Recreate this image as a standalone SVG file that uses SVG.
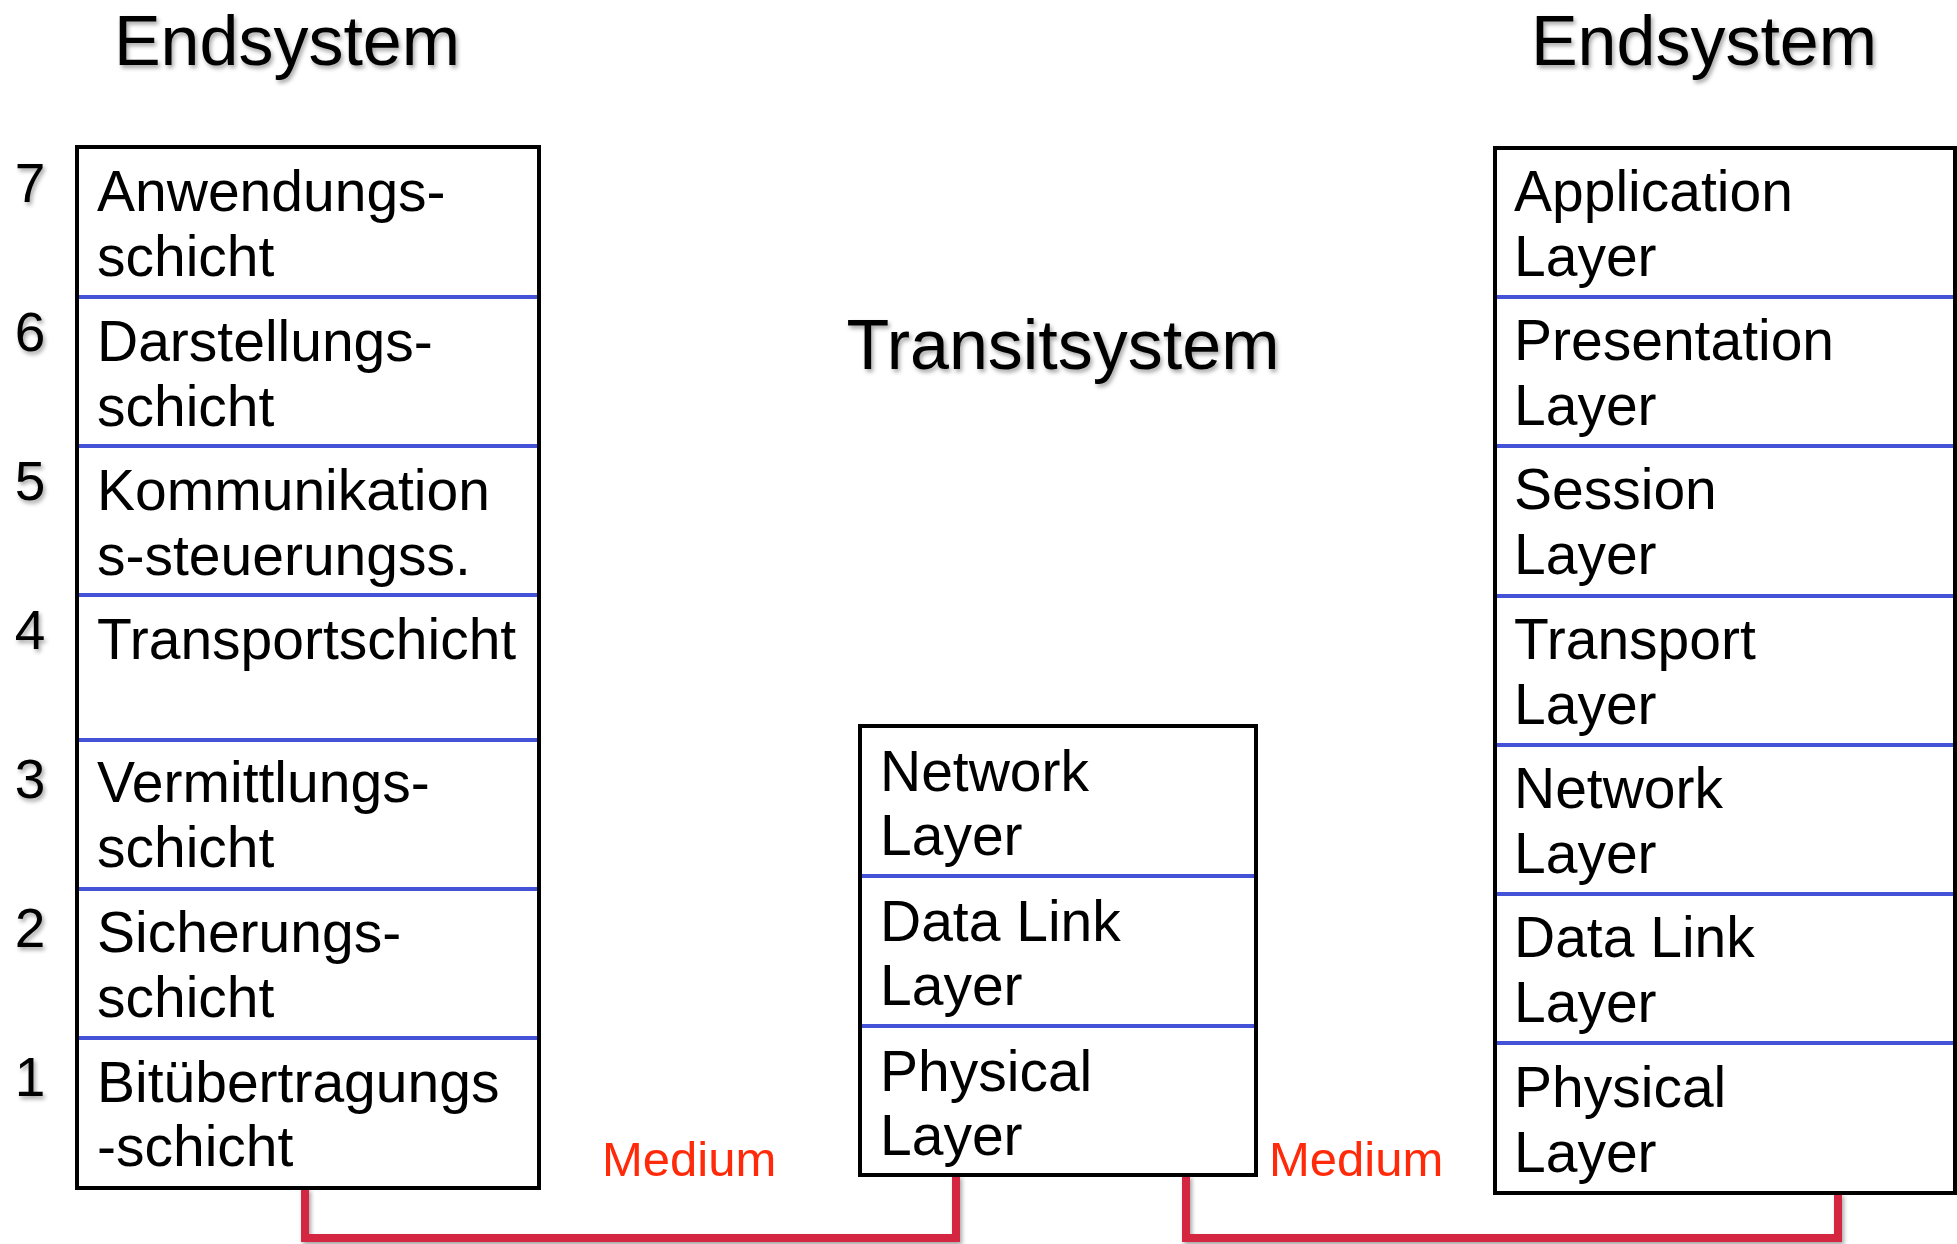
<svg xmlns="http://www.w3.org/2000/svg" width="1957" height="1244" viewBox="0 0 1957 1244">
<style>
.t{font-family:"Liberation Sans",Arial,sans-serif;fill:#000}
.title{font-size:70px;text-anchor:middle}
.num{font-size:55px;text-anchor:middle}
.lbl{font-size:57px}
.box{fill:#fff;stroke:#000;stroke-width:4}
.div{stroke:#4452d8;stroke-width:4}
.wire{fill:none;stroke:#d4263f;stroke-width:8}
.med{font-family:"Liberation Sans",Arial,sans-serif;font-size:49px;fill:#ff2a0a}
</style>
<defs>
<filter id="sh" x="-10%" y="-10%" width="130%" height="140%">
<feDropShadow dx="2" dy="3" stdDeviation="2" flood-color="#000" flood-opacity="0.35"/>
</filter>
</defs>
<rect width="1957" height="1244" fill="#fff"/>
<g id="titles" filter="url(#sh)">
<text class="t title" x="287" y="65">Endsystem</text>
<text class="t title" x="1704" y="65">Endsystem</text>
<text class="t title" x="1063" y="369">Transitsystem</text>
</g>
<g id="connectors">
<path class="wire" filter="url(#sh)" d="M305 1188 V1238 H956 V1175"/>
<path class="wire" filter="url(#sh)" d="M1186 1175 V1238 H1838 V1193"/>
<text class="med" x="602" y="1176">Medium</text>
<text class="med" x="1269" y="1176">Medium</text>
</g>
<g id="numbers" filter="url(#sh)">
<text class="t num" x="30" y="202">7</text>
<text class="t num" x="30" y="351">6</text>
<text class="t num" x="30" y="500">5</text>
<text class="t num" x="30" y="649">4</text>
<text class="t num" x="30" y="798">3</text>
<text class="t num" x="30" y="947">2</text>
<text class="t num" x="30" y="1096">1</text>
</g>
<g id="left-endsystem">
<rect class="box" x="77" y="147" width="462" height="1041"/>
<line class="div" x1="79" y1="297" x2="537" y2="297"/>
<line class="div" x1="79" y1="446" x2="537" y2="446"/>
<line class="div" x1="79" y1="595" x2="537" y2="595"/>
<line class="div" x1="79" y1="740" x2="537" y2="740"/>
<line class="div" x1="79" y1="889" x2="537" y2="889"/>
<line class="div" x1="79" y1="1038" x2="537" y2="1038"/>
<text class="t lbl" x="97" y="211">Anwendungs-</text>
<text class="t lbl" x="97" y="276">schicht</text>
<text class="t lbl" x="97" y="361">Darstellungs-</text>
<text class="t lbl" x="97" y="426">schicht</text>
<text class="t lbl" x="97" y="510">Kommunikation</text>
<text class="t lbl" x="97" y="575">s-steuerungss.</text>
<text class="t lbl" x="97" y="659">Transportschicht</text>
<text class="t lbl" x="97" y="802">Vermittlungs-</text>
<text class="t lbl" x="97" y="867">schicht</text>
<text class="t lbl" x="97" y="952">Sicherungs-</text>
<text class="t lbl" x="97" y="1017">schicht</text>
<text class="t lbl" x="97" y="1102">Bitübertragungs</text>
<text class="t lbl" x="97" y="1166">-schicht</text>
</g>
<g id="transitsystem">
<rect class="box" x="860" y="726" width="396" height="449"/>
<line class="div" x1="862" y1="876" x2="1254" y2="876"/>
<line class="div" x1="862" y1="1026" x2="1254" y2="1026"/>
<text class="t lbl" x="880" y="791">Network</text>
<text class="t lbl" x="880" y="855">Layer</text>
<text class="t lbl" x="880" y="941">Data Link</text>
<text class="t lbl" x="880" y="1005">Layer</text>
<text class="t lbl" x="880" y="1091">Physical</text>
<text class="t lbl" x="880" y="1155">Layer</text>
</g>
<g id="right-endsystem">
<rect class="box" x="1495" y="148" width="460" height="1045"/>
<line class="div" x1="1497" y1="297" x2="1953" y2="297"/>
<line class="div" x1="1497" y1="446" x2="1953" y2="446"/>
<line class="div" x1="1497" y1="596" x2="1953" y2="596"/>
<line class="div" x1="1497" y1="745" x2="1953" y2="745"/>
<line class="div" x1="1497" y1="894" x2="1953" y2="894"/>
<line class="div" x1="1497" y1="1043" x2="1953" y2="1043"/>
<text class="t lbl" x="1514" y="211">Application</text>
<text class="t lbl" x="1514" y="276">Layer</text>
<text class="t lbl" x="1514" y="360">Presentation</text>
<text class="t lbl" x="1514" y="425">Layer</text>
<text class="t lbl" x="1514" y="509">Session</text>
<text class="t lbl" x="1514" y="574">Layer</text>
<text class="t lbl" x="1514" y="659">Transport</text>
<text class="t lbl" x="1514" y="724">Layer</text>
<text class="t lbl" x="1514" y="808">Network</text>
<text class="t lbl" x="1514" y="873">Layer</text>
<text class="t lbl" x="1514" y="957">Data Link</text>
<text class="t lbl" x="1514" y="1022">Layer</text>
<text class="t lbl" x="1514" y="1107">Physical</text>
<text class="t lbl" x="1514" y="1172">Layer</text>
</g>
</svg>
